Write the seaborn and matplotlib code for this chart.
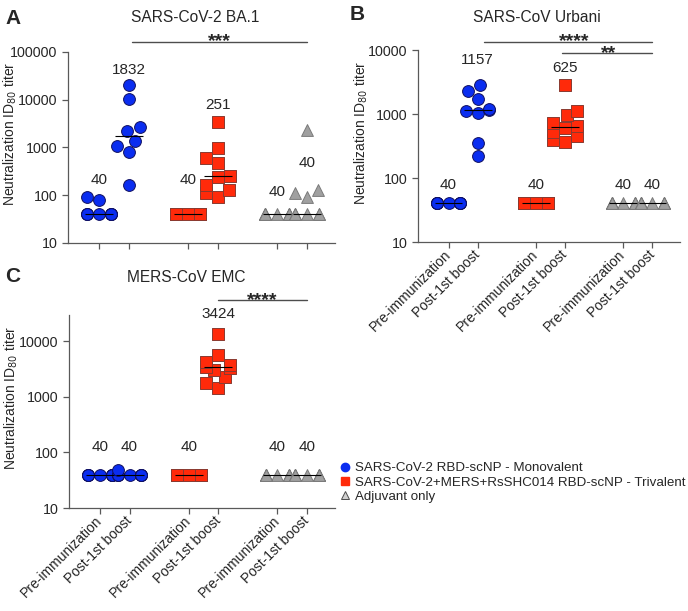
import warnings

import matplotlib
matplotlib.use('Agg')
from matplotlib import pyplot as plt
from matplotlib.lines import Line2D
from matplotlib.ticker import NullLocator
import numpy as np
import pandas as pd
import seaborn as sns

warnings.filterwarnings('ignore')

sns.set_style('ticks')
plt.rcParams['font.family'] = ['Liberation Sans', 'DejaVu Sans']

# groups / timepoints
groups = ['SARS-CoV-2 RBD-scNP - Monovalent',
          'SARS-CoV-2+MERS+RsSHC014 RBD-scNP - Trivalent',
          'Adjuvant only']
timepoints = ['Pre-immunization', 'Post-1st boost']
slots = ['mono_pre', 'mono_post', 'gap1', 'tri_pre', 'tri_post', 'gap2', 'adj_pre', 'adj_post']
data_slots = ['mono_pre', 'mono_post', 'tri_pre', 'tri_post', 'adj_pre', 'adj_post']

# A: SARS-CoV-2 BA.1
ba1_mono_pre = [40, 40, 40, 40, 40, 40, 40, 40, 80, 90]
ba1_mono_post = [164, 817, 1075, 1400, 2264, 2730, 10200, 20350]
ba1_tri_pre = [40, 40, 40, 40, 40, 40, 40, 40, 40, 40]
ba1_tri_post = [93, 113, 129, 164, 245, 257, 467, 594, 962, 3470]
ba1_adj_pre = [40, 40, 40, 40, 40, 40, 40, 40, 40, 40]
ba1_adj_post = [40, 40, 40, 40, 40, 40, 90, 110, 130, 2330]

# B: SARS-CoV Urbani
urb_mono_pre = [40, 40, 40, 40, 40, 40, 40, 40, 40, 40]
urb_mono_post = [221, 357, 1025, 1100, 1157, 1200, 1700, 2310, 2840]
urb_tri_pre = [40, 40, 40, 40, 40, 40, 40, 40, 40, 40]
urb_tri_post = [360, 390, 450, 530, 610, 640, 730, 960, 1100, 2800]
urb_adj_pre = [40, 40, 40, 40, 40, 40, 40, 40, 40, 40]
urb_adj_post = [40, 40, 40, 40, 40, 40, 40, 40, 40, 40]

# C: MERS-CoV EMC
emc_mono_pre = [40, 40, 40, 40, 40, 40, 40, 40, 40, 40]
emc_mono_post = [40, 40, 40, 40, 40, 40, 40, 40, 48]
emc_tri_pre = [40, 40, 40, 40, 40, 40, 40, 40, 40, 40]
emc_tri_post = [1450, 1750, 2300, 3100, 3348, 3500, 3700, 4300, 5800, 13400]
emc_adj_pre = [40, 40, 40, 40, 40, 40, 40, 40, 40, 40]
emc_adj_post = [40, 40, 40, 40, 40, 40, 40, 40, 40, 40]

# median label heights (annotation positions)
ba1_label_y = [210, 41900, 210, 7800, 117, 473]
urb_label_y = [78, 6950, 78, 5200, 78, 78]
emc_label_y = [126, 126, 126, 30800, 126, 126]

colors = {'mono': '#0a2df0', 'tri': '#ff2a0a', 'adj': '#a0a0a0'}
edges = {'mono': '#101060', 'tri': '#8a3a30', 'adj': '#7a7a7a'}
markers = {'mono': 'o', 'tri': 's', 'adj': '^'}


def make_frame(values):
    rows = []
    for slot, vals in zip(data_slots, values):
        for v in vals:
            rows.append({'slot': slot, 'group': slot.split('_')[0], 'titer': v})
    return pd.DataFrame(rows)


def draw_panel(ax, df, label_y, ylim, yticks, show_xlabels):
    ax.set_yscale('log')
    for g in ['mono', 'tri', 'adj']:
        sns.swarmplot(data=df[df['group'] == g], x='slot', y='titer', order=slots,
                      color=colors[g], marker=markers[g], size=8.5,
                      edgecolor=edges[g], linewidth=0.7, ax=ax)
    sns.boxplot(data=df, x='slot', y='titer', order=slots, width=0.95,
                showbox=False, showcaps=False, showfliers=False,
                whiskerprops={'visible': False},
                medianprops={'color': 'black', 'linewidth': 0.8, 'zorder': 5},
                ax=ax)

    medians = df.groupby('slot')['titer'].median()
    for slot, y in zip(data_slots, label_y):
        ax.text(slots.index(slot), y, f"{medians[slot]:.0f}", ha='center', va='center',
                fontsize=11)

    ax.set_ylim(ylim)
    ax.set_xlim(-1.05, 7.95)
    ax.set_yticks(yticks)
    ax.set_yticklabels([str(t) for t in yticks])
    ax.yaxis.set_minor_locator(NullLocator())
    ticks = [slots.index(s) for s in data_slots]
    ax.set_xticks(ticks)
    if show_xlabels:
        ax.set_xticklabels(timepoints * 3, rotation=45, ha='right', va='center',
                           rotation_mode='anchor', fontsize=11)
    else:
        ax.set_xticklabels([])
    ax.set_xlabel('')
    ax.set_ylabel('Neutralization ID$_{80}$ titer', fontsize=10)
    ax.yaxis.set_label_coords(-0.185, 0.57)
    ax.tick_params(axis='both', direction='out', length=4, width=0.9, color='0.35',
                   labelsize=10)
    ax.tick_params(axis='y', labelsize=10.3)
    for side in ['left', 'bottom']:
        ax.spines[side].set_color('0.35')
        ax.spines[side].set_linewidth(0.9)
    sns.despine(ax=ax)


def sig_bar(ax, x1, x2, y, stars, xs=None):
    ax.plot([x1, x2], [y, y], color='0.3', linewidth=1, clip_on=False)
    if xs is None:
        xs = (x1 + x2) / 2
    ax.text(xs, y, stars, ha='center', va='center', fontsize=14, fontweight='bold',
            color='0.15', clip_on=False)


W, H = 688, 611
fig = plt.figure(figsize=(W / 100, H / 100), dpi=100)


def box(left, top, right, bottom):
    return [left / W, 1 - bottom / H, (right - left) / W, (bottom - top) / H]


ax_a = fig.add_axes(box(68, 52, 335, 243))
ax_b = fig.add_axes(box(418, 50, 680, 242))
ax_c = fig.add_axes(box(69, 315, 335, 508))

df_a = make_frame([ba1_mono_pre, ba1_mono_post, ba1_tri_pre, ba1_tri_post, ba1_adj_pre, ba1_adj_post])
df_b = make_frame([urb_mono_pre, urb_mono_post, urb_tri_pre, urb_tri_post, urb_adj_pre, urb_adj_post])
df_c = make_frame([emc_mono_pre, emc_mono_post, emc_tri_pre, emc_tri_post, emc_adj_pre, emc_adj_post])

draw_panel(ax_a, df_a, ba1_label_y, (10, 100000), [10, 100, 1000, 10000, 100000], False)
draw_panel(ax_b, df_b, urb_label_y, (10, 10000), [10, 100, 1000, 10000], True)
draw_panel(ax_c, df_c, emc_label_y, (10, 30000), [10, 100, 1000, 10000], True)

sig_bar(ax_a, 1.1, 7, 162000, '***')
sig_bar(ax_b, 1.2, 7, 13300, '****', 4.3)
sig_bar(ax_b, 3.9, 7, 8950, '**', 5.5)
sig_bar(ax_c, 4, 7, 55000, '****')

fig.text(195 / W, 1 - 18 / H, 'SARS-CoV-2 BA.1', ha='center', va='center', fontsize=11.2)
fig.text(537 / W, 1 - 17 / H, 'SARS-CoV Urbani', ha='center', va='center', fontsize=11.2)
fig.text(186 / W, 1 - 277 / H, 'MERS-CoV EMC', ha='center', va='center', fontsize=11.2)

for letter, x, y in [('A', 5, 18), ('B', 350, 15), ('C', 5, 277)]:
    fig.text(x / W, 1 - y / H, letter, ha='left', va='center', fontsize=15, fontweight='bold')

handles = [Line2D([], [], linestyle='none', marker='o', color=colors['mono'], markersize=6),
           Line2D([], [], linestyle='none', marker='s', color=colors['tri'], markersize=6),
           Line2D([], [], linestyle='none', marker='^', markerfacecolor='#d0d0d0',
                  markeredgecolor='0.3', markeredgewidth=0.7, markersize=5.5)]
fig.legend(handles, groups, loc='upper left', bbox_to_anchor=(340 / W, 1 - 462 / H),
           frameon=False, fontsize=9.6, handlelength=0.8, handletextpad=0.3,
           labelspacing=0.15, borderaxespad=0, borderpad=0)

plt.savefig('out.png', dpi=100)
plt.close()
